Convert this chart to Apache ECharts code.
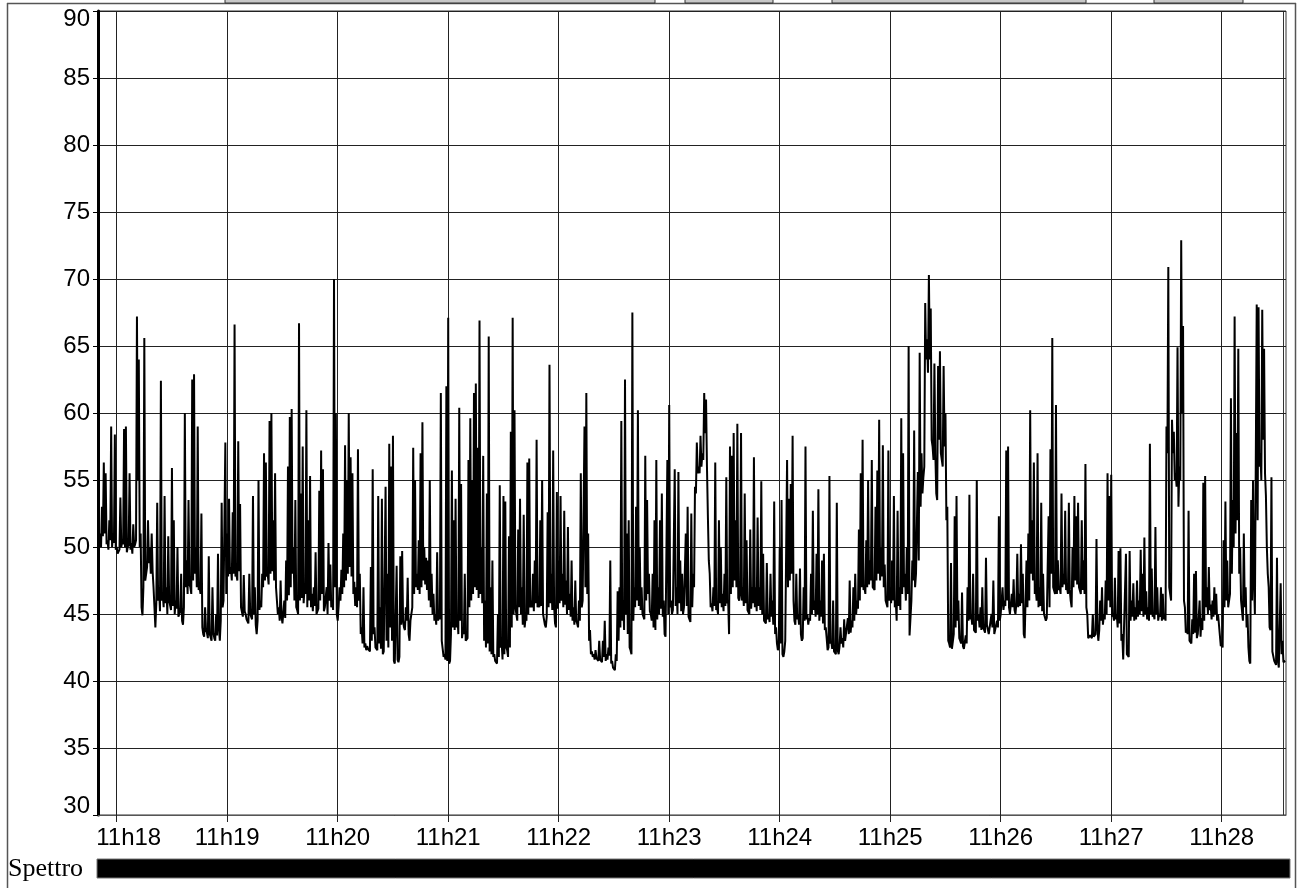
<!DOCTYPE html>
<html><head><meta charset="utf-8">
<script src="https://cdn.jsdelivr.net/npm/echarts/dist/echarts.min.js"></script>
<style>html,body{margin:0;padding:0;background:#fff}#c{width:1298px;height:888px}</style>
</head><body><div id="c"></div>
<script>
// Sound level (dB). Seconds are counted from 11h18:00.
// mXX: level read at each whole second of minute XX.
const m17 = [52, 51, 53, 56.3, 55.5, 50.5, 52, 59, 51, 58.4];
const m18 = [50, 49.6, 53.7, 50.5, 58.8, 59, 50, 55.5, 50.3, 51.7,
 50.2, 67.2, 64, 51, 44.9, 65.6, 48, 52, 50, 51,
 47, 44, 53.3, 47, 62.4, 46.5, 53.8, 47, 50.8, 46,
 55.9, 52, 46, 50, 45, 48, 44.2, 60, 49, 53.5,
 47, 62.5, 62.9, 50, 59, 47, 52.5, 43.5, 45.5, 43.6,
 49.3, 43.5, 47, 43.2, 45, 49.5, 43, 53.3, 46, 57.8];
const m19 = [51, 53.6, 48.5, 52.6, 66.6, 48, 57.9, 53.2, 45.5, 47.9,
 45, 44.5, 48, 45, 53.8, 47, 43.5, 55, 46, 48,
 57, 56.3, 48, 59.4, 60, 52, 55.5, 47, 45.5, 47.5,
 44.3, 46, 49, 56, 59.7, 60.3, 50, 53.5, 45.3, 66.7,
 54, 57.5, 47, 60.2, 52, 55.3, 46.5, 47, 49.6, 45,
 54.2, 57.2, 55.8, 45.5, 47, 50.3, 48.7, 46, 70, 60];
const m20 = [44.5, 47, 48.3, 51, 57.6, 55, 60, 56.7, 55.5, 47.4,
 47, 57.3, 48, 44, 47, 42.8, 42.6, 42.5, 48.5, 55.8,
 44, 42.6, 53.8, 45.5, 53.6, 42.2, 54.5, 48, 57.7, 56,
 58.3, 41.3, 48.6, 41.4, 49.3, 49.7, 44, 45.5, 47.7, 43,
 45, 57.4, 55, 48, 50.5, 57, 59.3, 50, 49.2, 49,
 55, 48, 46.5, 45, 49.6, 45, 61.5, 42.4, 42, 62];
const m21 = [67.1, 41.5, 55.7, 52, 53.6, 45, 60.4, 54.7, 44, 48,
 43, 56.5, 59.6, 55, 61.5, 62.2, 57.4, 66.9, 50, 56.8,
 46, 54, 65.7, 47, 49, 42, 41.4, 45, 54.6, 43,
 53.8, 53.4, 42.3, 50.8, 58.6, 67.1, 60.2, 45, 51.3, 53.6,
 47, 52.4, 44.7, 56.3, 56.6, 46, 48, 49, 58, 46,
 52, 55, 45, 44, 52.6, 63.6, 48, 57.2, 44.3, 54.1];
const m22 = [49, 53.8, 48, 52.7, 47.5, 51.5, 46.5, 49, 45.5, 47.5,
 44.3, 46, 55.5, 46, 59, 61.5, 51, 43.8, 42.2, 42,
 42.3, 41.8, 43, 41.6, 43, 44.5, 42, 42.5, 49, 41.5,
 41, 42, 46.7, 47, 59.4, 46, 62.5, 51, 52, 42.3,
 67.5, 47, 53, 60.2, 50, 47, 45, 56.8, 53.5, 48,
 45, 48, 52, 56.5, 47, 52, 54, 46, 43.3, 56.5];
const m23 = [60.6, 46, 45.3, 55.8, 47, 55.6, 49, 48, 45.5, 51,
 53, 44.6, 52.5, 48, 54.5, 57.8, 56, 58.3, 57, 61.5,
 61, 52.3, 48, 45.8, 47, 56.3, 45.5, 52, 50, 46.5,
 48, 55.2, 46, 57.5, 56.8, 58.5, 52, 59.2, 46, 58.5,
 47, 54, 50.5, 45.3, 51.3, 47, 56.7, 47, 52.2, 47,
 54.9, 49.5, 44.6, 48.8, 45, 48, 46, 53.4, 44, 42.3];
const m24 = [50, 53.5, 41.8, 43, 56.5, 53.6, 54.7, 58.3, 44.5, 48,
 45, 48.4, 43, 47, 57.5, 45, 44.7, 48, 52.7, 46,
 49.5, 54.3, 46, 49, 49.5, 44, 42.3, 55.3, 43, 46,
 42.2, 53.3, 42, 44, 43.2, 44.6, 43, 44.7, 47.5, 44.5,
 47, 48, 46, 51.3, 55.5, 58, 47, 50.5, 55, 49,
 56.5, 47, 53, 55.7, 59.5, 50, 57.6, 48.7, 46, 57.2];
const m25 = [47, 49, 53.8, 46, 52.7, 47, 59.6, 57, 48, 50,
 65, 43.4, 49, 58.7, 48, 55.6, 64.5, 57, 55.2, 68.2,
 65.5, 70.3, 67.8, 57.5, 63.7, 54, 63.5, 64.6, 56.5, 63.5,
 60, 53, 42.8, 48.8, 42.4, 52.3, 53.8, 46, 43, 46.6,
 42.4, 43.4, 47, 53.9, 45, 48, 43.8, 55, 45, 45.5,
 47, 44, 49.2, 44.3, 43.5, 45, 47.5, 43.6, 44.5, 52.3];
const m26 = [45, 47, 46, 57.2, 57.5, 45, 46.5, 47.6, 45, 49.5,
 46.5, 50.2, 48, 43.2, 49, 51, 60.2, 52, 56.3, 47,
 57, 47, 53.3, 48, 45, 44.7, 52.3, 57.3, 65.6, 47,
 60.6, 49, 47, 54, 48, 52.7, 47, 53.3, 46, 50,
 53.8, 52.3, 53.3, 47, 52, 49, 56.2, 45, 43.2, 43.3,
 45, 43.3, 50.6, 43, 46, 47, 45, 47.5, 55.5, 53.8];
const m27 = [55.4, 45, 47.7, 45, 49.7, 49.9, 43.5, 41.7, 49.5, 42,
 49.7, 46, 47.3, 45.5, 47.5, 46, 49.8, 48, 50.7, 46.7,
 45.5, 57.7, 48.4, 45, 51.5, 47, 45, 47, 46.5, 45,
 59, 70.9, 47, 59.5, 58.6, 55.5, 64.9, 56, 72.9, 66.5,
 45.5, 43.8, 52.7, 43, 44.6, 48, 48.2, 43.5, 46, 44.7,
 54.8, 55.3, 47, 48.5, 45.7, 46, 47, 46.5, 45, 44.3];
const m28 = [42.8, 50.5, 53.4, 49, 46, 61.1, 53.5, 67.2, 58.5, 64.8,
 50, 46, 51, 47, 45, 41.5, 53.5, 55, 45, 68.1,
 67.9, 57, 67.7, 64.8, 53.8, 48, 44, 55.2, 42.3, 41.4,
 49.2, 41, 47.3, 43, 41.5];

// loXX: level read half a second later (trough between consecutive readings).
const lo17 = [50.5, 50, 50.8, 51, 50.2, 49.8, 50.5, 50, 50.3, 49.8];
const lo18 = [49.5, 49.8, 50, 50.2, 50, 49.6, 50.2, 49.8, 49.5, 50,
 50.5, 55, 50, 45.5, 47, 47.5, 48.5, 48.8, 48, 48.2,
 45.5, 45.8, 46, 45.2, 46, 45.5, 45.8, 45, 46, 45.3,
 45.6, 45, 45.4, 44.8, 45.2, 44.5, 45.5, 47, 46.5, 47.2,
 46.5, 47.5, 48, 47, 46.8, 46.5, 44, 43.3, 43.8, 43.2,
 43.5, 43, 43.6, 43, 43.4, 44, 44.5, 45.5, 46, 46.5];
const lo19 = [47.8, 48, 47.5, 48, 47.8, 47.5, 48.2, 45.5, 44.8, 45.2,
 44.6, 44.3, 45, 44.6, 45, 44.2, 44.5, 45.3, 45.5, 47,
 47.5, 47.8, 47.2, 48, 48.2, 47.5, 47, 45, 44.5, 44.8,
 44.2, 44.7, 46, 46.4, 47, 48, 46, 45.5, 45, 46,
 46.2, 45.8, 46.5, 45.5, 46, 45.5, 45.2, 45.6, 45, 45.4,
 46, 46.5, 45.2, 45.5, 45, 46, 45.5, 45.3, 47, 45];
const lo20 = [45.6, 46, 46.5, 47, 47.5, 48, 48.5, 47.8, 46.5, 45.6,
 45.5, 46, 43.5, 42.8, 42.5, 42.3, 42.4, 42.2, 43, 43.5,
 42.5, 42.3, 42.8, 42.4, 42, 42.3, 43, 42.5, 44, 43,
 41.5, 41.4, 41.6, 41.8, 44.2, 44.5, 43.8, 44.5, 43.5, 44.5,
 45.5, 46.5, 47, 46.8, 46.5, 47, 47.5, 47.2, 46.8, 46,
 45.5, 45, 44.5, 44.2, 44.5, 44.6, 43, 41.8, 41.6, 41.5];
const lo21 = [41.3, 43.5, 44, 43.8, 44, 43.5, 44.5, 43.2, 43.5, 43,
 43.2, 45.5, 46, 46.5, 47, 46.8, 46.2, 46.5, 45.8, 43,
 42.5, 42.8, 42.2, 42, 41.8, 41.5, 41.3, 41.8, 42.5, 41.6,
 42, 42.5, 41.8, 42.5, 44, 45, 45.5, 44.5, 45.5, 45,
 44.2, 44, 44.5, 45, 45.5, 45.5, 45.2, 45.8, 45.5, 45.5,
 45.6, 45, 44.2, 44.8, 45.5, 45.8, 45.3, 45.6, 44, 45.4];
const lo22 = [45.8, 46, 45.5, 45.7, 45, 45.3, 44.8, 44.5, 44.2, 44.5,
 44, 44.5, 45.5, 46, 47, 46.5, 43, 42, 41.8, 41.6,
 41.7, 41.5, 41.6, 41.4, 41.8, 41.5, 41.6, 41.9, 41.3, 41,
 40.8, 41.5, 43, 44, 44.5, 43.8, 45, 43.5, 42.5, 42,
 44.5, 45.5, 46, 45.6, 45.3, 45, 44.6, 46, 46.5, 45.2,
 44.5, 44, 43.8, 44.6, 45, 45.4, 44.8, 43.5, 43.2, 45];
const lo23 = [45.5, 45, 45.3, 45.6, 45, 45.8, 45.2, 45, 45.4, 45.6,
 44.8, 44.4, 45.5, 47, 54, 55.5, 55.5, 56, 56.5, 58.5,
 56, 49, 45.5, 45.2, 45.6, 45.3, 45, 45.8, 45.5, 45.2,
 45.6, 45.8, 43.5, 46.5, 47, 47.5, 47, 46.2, 46.5, 46,
 45.6, 45.8, 45.3, 45, 45.4, 45.8, 45.5, 45.2, 45.6, 45.3,
 45, 44.5, 44.3, 44.6, 44.4, 44.8, 44.2, 43.5, 42.8, 42.5];
const lo24 = [42.8, 42, 42.2, 43, 47, 47.5, 48, 46, 44.2, 44.6,
 44.2, 43.5, 43.2, 44.5, 44.6, 44.2, 44.5, 45, 45.3, 44.8,
 45, 44.5, 44.8, 44.3, 43.8, 43.2, 42.5, 42.8, 42.4, 42.2,
 42, 42.3, 42.6, 42.8, 42.5, 43, 42.9, 43.5, 43.6, 44,
 44.5, 45, 45.4, 46, 47, 46.8, 46.5, 47, 47.2, 47.5,
 47, 46.8, 47.5, 48, 47.5, 47.8, 47, 46, 45.5, 46];
const lo25 = [45.8, 46, 45.5, 44.5, 45.6, 45.3, 46.5, 47, 46, 46.5,
 43.4, 46, 47.5, 47, 48, 49, 53, 54, 56, 64,
 63, 64, 58, 56.5, 57, 53.5, 58, 57, 56, 57.5,
 52, 43, 42.5, 42.4, 43.5, 44, 44.5, 43.2, 42.8, 42.6,
 42.3, 42.8, 44.5, 44.6, 44.2, 43.8, 43.6, 44.5, 44, 43.8,
 44, 43.6, 44.2, 43.5, 43.4, 44, 43.5, 43.4, 44, 44.5];
const lo26 = [45, 45.3, 45.6, 46, 45.5, 45, 45.5, 45.3, 45.8, 45.5,
 45.6, 45.8, 43.5, 43.2, 45.5, 46, 48, 47.5, 46.5, 46,
 45.5, 45.6, 45.2, 45, 44.5, 44.6, 45.5, 48, 47, 46.5,
 46.5, 46.8, 46.5, 47, 47.2, 46.8, 46.5, 46.8, 45.5, 47,
 47.5, 47.2, 47, 46.5, 46.8, 46.5, 45.5, 43.2, 43.4, 43.2,
 43.3, 43.5, 44, 43.8, 44.5, 44.2, 44.6, 45, 46, 45.5];
const lo27 = [44.8, 44.5, 44.6, 44, 44.3, 43, 41.6, 41.5, 42, 41.8,
 44.5, 44.8, 44.5, 44.6, 44.8, 45, 45.2, 44.8, 45, 44.6,
 44.5, 45, 44.8, 44.6, 45, 44.5, 44.8, 44.5, 44.6, 44.5,
 57, 47, 46, 57, 55, 54.5, 53, 55, 60, 46,
 43.6, 43.5, 43, 42.8, 43.5, 43.6, 43.2, 43.4, 43.3, 43.8,
 44.5, 45.5, 45, 45.3, 44.6, 44.8, 45, 44.5, 44.2, 42.6];
const lo28 = [42.5, 45.5, 46, 45.5, 46.5, 48, 50, 51, 52, 48,
 46, 44.5, 45.5, 44, 42.5, 41.3, 46, 47.5, 45, 52,
 56, 55, 58, 55.5, 50, 47, 43.8, 42.2, 41.5, 41.2,
 41.5, 41, 42, 41.4, 41.5];

const levelSegments = [m17, m18, m19, m20, m21, m22, m23, m24, m25, m26, m27, m28];
const troughSegments = [lo17, lo18, lo19, lo20, lo21, lo22, lo23, lo24, lo25, lo26, lo27, lo28];
const segmentStarts = [-10, 0, 60, 120, 180, 240, 300, 360, 420, 480, 540, 600];

const tickSeconds = [0, 60, 120, 180, 240, 300, 360, 420, 480, 540, 600];
const tickLabels = ['11h18', '11h19', '11h20', '11h21', '11h22', '11h23', '11h24', '11h25', '11h26', '11h27', '11h28'];

const yMin = 30, yMax = 90, yStep = 5;
const xMin = -10.15, xMax = 634.9;

const data = [];
levelSegments.forEach((seg, i) => seg.forEach((v, j) => {
  data.push([segmentStarts[i] + j, v]);
  data.push([segmentStarts[i] + j + 0.5, troughSegments[i][j]]);
}));

const FONT = 'Liberation Sans, Arial, sans-serif';
const chart = echarts.init(document.getElementById('c'), null, {renderer: 'canvas'});
chart.setOption({
  animation: false,
  backgroundColor: '#fff',
  grid: {left: 98, top: 11, width: 1188, height: 804, show: true, borderColor: '#333', borderWidth: 1, containLabel: false},
  xAxis: {
    type: 'value', min: xMin, max: xMax,
    axisLine: {show: true, onZero: false, lineStyle: {color: '#555', width: 1}},
    axisTick: {show: true, customValues: tickSeconds, length: 7, lineStyle: {color: '#222', width: 1}},
    axisLabel: {
      customValues: tickSeconds, color: '#000', fontSize: 24, fontFamily: FONT, margin: 11,
      formatter: v => { const i = tickSeconds.indexOf(Math.round(v)); const t = i >= 0 ? tickLabels[i] : ''; return i === 0 ? '{f|' + t + '}' : t; },
      rich: {f: {padding: [0, 0, 0, 24], fontSize: 24, fontFamily: FONT, color: '#000'}}
    },
    splitLine: {show: true, lineStyle: {color: '#222', width: 1}}
  },
  yAxis: {
    type: 'value', min: yMin, max: yMax, interval: yStep,
    axisLine: {show: true, onZero: false, lineStyle: {color: '#000', width: 3}},
    axisTick: {show: true, length: 5, lineStyle: {color: '#000', width: 1}},
    axisLabel: {
      color: '#000', fontSize: 24, fontFamily: FONT, margin: 8,
      formatter: v => v === yMax ? '{t|' + v + '}' : (v === yMin ? '{b|' + v + '}' : String(v)),
      rich: {
        t: {padding: [16, 0, 0, 0], fontSize: 24, fontFamily: FONT, color: '#000'},
        b: {padding: [0, 0, 17, 0], fontSize: 24, fontFamily: FONT, color: '#000'}
      }
    },
    splitLine: {show: true, lineStyle: {color: '#222', width: 1}}
  },
  series: [{
    type: 'line', data: data, showSymbol: false, symbol: 'none', sampling: false,
    lineStyle: {color: '#000', width: 2}, clip: true
  }],
  graphic: [
    {type: 'line', shape: {x1: 7.5, y1: 3, x2: 7.5, y2: 888}, style: {stroke: '#555', lineWidth: 1.5}},
    {type: 'line', shape: {x1: 1295.5, y1: 3, x2: 1295.5, y2: 888}, style: {stroke: '#555', lineWidth: 1.5}},
    {type: 'line', shape: {x1: 7, y1: 3.5, x2: 1296, y2: 3.5}, style: {stroke: '#555', lineWidth: 1.5}},
    {type: 'rect', shape: {x: 225, y: -2, width: 430, height: 5}, style: {fill: '#c8c8c8', stroke: '#333', lineWidth: 1}},
    {type: 'rect', shape: {x: 685, y: -2, width: 88, height: 5}, style: {fill: '#c8c8c8', stroke: '#333', lineWidth: 1}},
    {type: 'rect', shape: {x: 832, y: -2, width: 254, height: 5}, style: {fill: '#c8c8c8', stroke: '#333', lineWidth: 1}},
    {type: 'rect', shape: {x: 1154, y: -2, width: 89, height: 5}, style: {fill: '#c8c8c8', stroke: '#333', lineWidth: 1}},
    {type: 'line', shape: {x1: 1283.5, y1: 11, x2: 1283.5, y2: 815}, style: {stroke: '#333', lineWidth: 1}},
    {type: 'text', x: 8, y: 869, style: {text: 'Spettro', font: '26px "Liberation Serif", "Times New Roman", serif', fill: '#000', verticalAlign: 'middle'}},
    {type: 'rect', shape: {x: 97, y: 859, width: 1193, height: 19}, style: {fill: '#000', stroke: '#777', lineWidth: 1}}
  ]
});
</script>
</body></html>
